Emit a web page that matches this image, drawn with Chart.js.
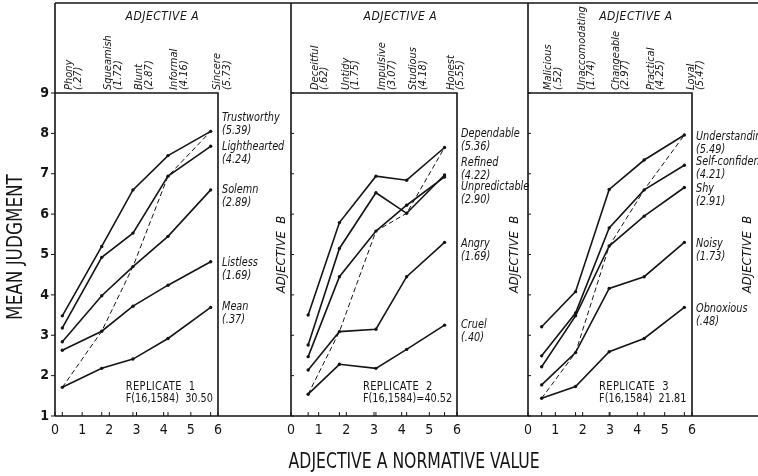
<!DOCTYPE html>
<html>
<head>
<meta charset="utf-8">
<script src="https://cdn.jsdelivr.net/npm/chart.js@4.4.1/dist/chart.umd.min.js"></script>
<style>
  body { margin: 0; background: #fff; }
  #wrap { position: relative; width: 758px; height: 476px; overflow: hidden; background: #fff; }
  #wrap canvas { position: absolute; left: 0; top: 0; }
</style>
</head>
<body>
<div id="wrap">
  <canvas id="rep1" width="758" height="476"></canvas>
  <canvas id="rep2" width="758" height="476"></canvas>
  <canvas id="rep3" width="758" height="476"></canvas>
</div>
<script>
// ---- datos ----
const xTicks = [0, 1, 2, 3, 4, 5, 6];
const yTicks = [1, 2, 3, 4, 5, 6, 7, 8, 9];

// replicate 1
const adjA1 = ['Phony', 'Squeamish', 'Blunt', 'Informal', 'Sincere'];
const adjA1Norm = ['(.27)', '(1.72)', '(2.87)', '(4.16)', '(5.73)'];
const xPos1 = [0.27, 1.72, 2.87, 4.16, 5.73];
const adjB1 = ['Trustworthy', 'Lighthearted', 'Solemn', 'Listless', 'Mean'];
const adjB1Norm = ['(5.39)', '(4.24)', '(2.89)', '(1.69)', '(.37)'];
const trustworthy = [3.48, 5.20, 6.60, 7.45, 8.05];
const lighthearted = [3.18, 4.93, 5.53, 6.94, 7.68];
const solemn = [2.84, 3.98, 4.70, 5.45, 6.60];
const listless = [2.63, 3.10, 3.72, 4.24, 4.82];
const mean = [1.71, 2.18, 2.41, 2.92, 3.69];

// replicate 2
const adjA2 = ['Deceitful', 'Untidy', 'Impulsive', 'Studious', 'Honest'];
const adjA2Norm = ['(.62)', '(1.75)', '(3.07)', '(4.18)', '(5.55)'];
const xPos2 = [0.62, 1.75, 3.07, 4.18, 5.55];
const adjB2 = ['Dependable', 'Refined', 'Unpredictable', 'Angry', 'Cruel'];
const adjB2Norm = ['(5.36)', '(4.22)', '(2.90)', '(1.69)', '(.40)'];
const dependable = [3.50, 5.79, 6.94, 6.84, 7.65];
const refined = [2.76, 5.15, 6.53, 6.02, 6.97];
const unpredictable = [2.47, 4.45, 5.58, 6.22, 6.92];
const angry = [2.14, 3.09, 3.15, 4.45, 5.30];
const cruel = [1.54, 2.28, 2.18, 2.65, 3.25];

// replicate 3
const adjA3 = ['Malicious', 'Unaccomodating', 'Changeable', 'Practical', 'Loyal'];
const adjA3Norm = ['(.52)', '(1.74)', '(2.97)', '(4.25)', '(5.47)'];
const xPos3 = [0.50, 1.74, 2.97, 4.25, 5.72];
const adjB3 = ['Understanding', 'Self-confident', 'Shy', 'Noisy', 'Obnoxious'];
const adjB3Norm = ['(5.49)', '(4.21)', '(2.91)', '(1.73)', '(.48)'];
const understanding = [3.21, 4.08, 6.61, 7.34, 7.96];
const selfConfident = [2.49, 3.55, 5.66, 6.60, 7.21];
const shy = [2.22, 3.48, 5.21, 5.95, 6.66];
const noisy = [1.77, 2.57, 4.16, 4.45, 5.30];
const obnoxious = [1.44, 1.73, 2.59, 2.92, 3.69];

const notes = [
  ['REPLICATE  1', 'F(16,1584)  30.50'],
  ['REPLICATE  2', 'F(16,1584)=40.52'],
  ['REPLICATE  3', 'F(16,1584)  21.81']
];

// ---- estilo ----
const FONT = '"Liberation Sans Narrow", "DejaVu Sans Condensed", "Liberation Sans", sans-serif';
const INK = '#141414';

function txt(ctx, s, x, y, o) {
  ctx.save();
  ctx.translate(x, y);
  if (o.rot) ctx.rotate(o.rot);
  if (o.sx) ctx.scale(o.sx, 1);
  ctx.font = o.font;
  ctx.textAlign = o.align || 'left';
  ctx.textBaseline = o.base || 'middle';
  ctx.fillStyle = INK;
  if (o.ls) ctx.letterSpacing = o.ls;
  ctx.fillText(s, 0, 0);
  ctx.restore();
}

// marco, cabecera (adjetivo A), etiquetas (adjetivo B) y notas
const framePlugin = {
  id: 'frame',
  afterDraw(chart, args, o) {
    const { ctx, chartArea: a, scales: { x, y } } = chart;
    ctx.save();
    ctx.strokeStyle = INK;
    ctx.lineWidth = 1.6;
    ctx.beginPath();
    ctx.moveTo(a.left, 3); ctx.lineTo(a.left, a.bottom);
    ctx.moveTo(a.left, a.top); ctx.lineTo(a.right, a.top); ctx.lineTo(a.right, a.bottom);
    if (o.outer) {
      ctx.moveTo(a.left, 3); ctx.lineTo(chart.width, 3);
      ctx.moveTo(a.left, a.bottom); ctx.lineTo(chart.width, a.bottom);
    }
    ctx.stroke();
    ctx.lineWidth = 1;
    ctx.beginPath();
    yTicks.forEach(v => {
      const py = y.getPixelForValue(v);
      if (o.outer) { ctx.moveTo(a.left - 4, py); ctx.lineTo(a.left, py); }
      else { ctx.moveTo(a.left, py); ctx.lineTo(a.left + 3, py); }
    });
    xTicks.concat(o.xPos).forEach(v => {
      const px = x.getPixelForValue(v);
      ctx.moveTo(px, a.bottom); ctx.lineTo(px, a.bottom - 4);
    });
    ctx.stroke();
    ctx.restore();

    if (o.outer) {
      txt(ctx, 'MEAN JUDGMENT', 17, 247,
        { font: '21px ' + FONT, align: 'center', rot: -Math.PI / 2, sx: 0.89 });
    }

    // adjetivo A, arriba
    txt(ctx, 'ADJECTIVE A', x.getPixelForValue(3.95), 17,
      { font: 'italic 12px ' + FONT, align: 'center', ls: '0.5px' });
    o.xPos.forEach((v, i) => {
      const px = x.getPixelForValue(v);
      txt(ctx, o.adjA[i], px + 1, a.top - 3, { font: 'italic 11px ' + FONT, rot: -Math.PI / 2, base: 'top' });
      txt(ctx, o.adjANorm[i], px + 10.5, a.top - 3, { font: 'italic 11px ' + FONT, rot: -Math.PI / 2, base: 'top' });
    });

    // adjetivo B, a la derecha
    o.adjB.forEach((s, i) => {
      const py = y.getPixelForValue(o.labelAt[i]);
      txt(ctx, s, a.right + 4, py, { font: 'italic 12px ' + FONT, sx: 0.9 });
      txt(ctx, o.adjBNorm[i], a.right + 4, py + 13, { font: 'italic 12px ' + FONT, sx: 0.9 });
    });
    txt(ctx, 'ADJECTIVE  B', a.right + o.bTitle, y.getPixelForValue(5),
      { font: 'italic 13px ' + FONT, align: 'center', rot: -Math.PI / 2 });

    // replicate / F
    const nx = x.getPixelForValue(2.6), ny = y.getPixelForValue(1.72);
    txt(ctx, o.note[0], nx, ny, { font: '12px ' + FONT, ls: '0.4px', sx: 0.92 });
    txt(ctx, o.note[1], nx, ny + 12, { font: '12px ' + FONT, sx: 0.9 });

    if (o.axisTitle) {
      txt(ctx, 'ADJECTIVE A NORMATIVE VALUE', x.getPixelForValue(4.45), a.bottom + 47,
        { font: '21px ' + FONT, align: 'center', sx: 0.83 });
    }
  }
};

function makePanel(id, p) {
  const datasets = p.means.map((m, i) => ({
    label: p.adjB[i],
    data: m.map((v, j) => ({ x: p.xPos[j], y: v })),
    borderColor: INK,
    backgroundColor: INK,
    borderWidth: 1.6,
    pointRadius: 1.7,
    pointHoverRadius: 1.7,
    pointBorderWidth: 0,
    tension: 0
  }));
  // linea de trazos: celdas en que A y B tienen el mismo rango
  const n = p.means.length;
  datasets.push({
    label: 'A = B',
    data: p.xPos.map((v, j) => ({ x: v, y: p.means[n - 1 - j][j] })),
    borderColor: INK,
    borderWidth: 1,
    borderDash: [5, 3],
    pointRadius: 0,
    tension: 0
  });

  return new Chart(document.getElementById(id), {
    type: 'line',
    data: { datasets },
    options: {
      responsive: false,
      animation: false,
      events: [],
      layout: { padding: { top: 93, left: p.left, right: p.right, bottom: 0 } },
      plugins: {
        legend: { display: false },
        tooltip: { enabled: false },
        frame: {
          outer: p.outer, axisTitle: p.axisTitle, bTitle: p.bTitle,
          xPos: p.xPos, adjA: p.adjA, adjANorm: p.adjANorm,
          adjB: p.adjB, adjBNorm: p.adjBNorm, labelAt: p.labelAt, note: p.note
        }
      },
      scales: {
        x: {
          type: 'linear', min: 0, max: 6,
          afterFit(s) { s.height = 60; },
          afterBuildTicks(s) { s.ticks = xTicks.map(v => ({ value: v })); },
          border: { display: false },
          grid: { display: false, drawTicks: false },
          ticks: { autoSkip: false, maxRotation: 0, padding: 6, color: INK, font: { family: FONT, size: 14 } }
        },
        y: {
          type: 'linear', min: 1, max: 9,
          display: p.outer,
          afterFit(s) { s.width = p.outer ? 55 : 0; },
          afterBuildTicks(s) { s.ticks = yTicks.map(v => ({ value: v })); },
          border: { display: false },
          grid: { display: false, drawTicks: false },
          ticks: { padding: 6, color: INK, font: { family: FONT, size: 14, weight: 'bold' } }
        }
      }
    },
    plugins: [framePlugin]
  });
}

makePanel('rep1', {
  left: 0, right: 540, outer: true, bTitle: 64,
  xPos: xPos1, adjA: adjA1, adjANorm: adjA1Norm, adjB: adjB1, adjBNorm: adjB1Norm,
  means: [trustworthy, lighthearted, solemn, listless, mean],
  labelAt: [8.38, 7.66, 6.60, 4.79, 3.70], note: notes[0]
});
makePanel('rep2', {
  left: 291, right: 301, outer: false, axisTitle: true, bTitle: 58,
  xPos: xPos2, adjA: adjA2, adjANorm: adjA2Norm, adjB: adjB2, adjBNorm: adjB2Norm,
  means: [dependable, refined, unpredictable, angry, cruel],
  labelAt: [8.00, 7.27, 6.67, 5.26, 3.25], note: notes[1]
});
makePanel('rep3', {
  left: 528, right: 66, outer: false, bTitle: 56,
  xPos: xPos3, adjA: adjA3, adjANorm: adjA3Norm, adjB: adjB3, adjBNorm: adjB3Norm,
  means: [understanding, selfConfident, shy, noisy, obnoxious],
  labelAt: [7.92, 7.30, 6.62, 5.26, 3.65], note: notes[2]
});
</script>
</body>
</html>
